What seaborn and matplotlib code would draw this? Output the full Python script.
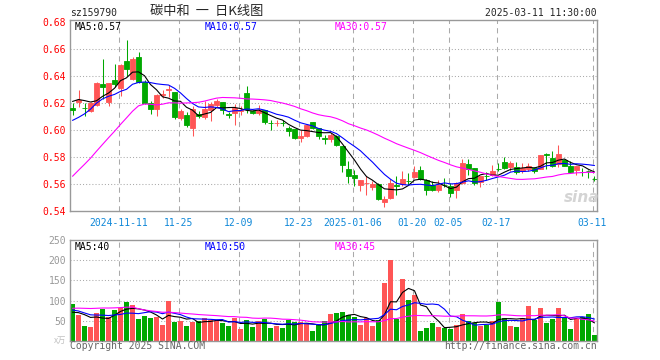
import matplotlib
matplotlib.use("Agg")
import matplotlib.pyplot as plt
import seaborn as sns
import numpy as np
import pandas as pd

sns.set_style("white")
plt.rcParams['font.family'] = ['DejaVu Sans Mono', 'Noto Sans CJK SC']

# daily K line, 2024-10-30 .. 2025-03-11 (88 sessions)
open_ = [0.6160, 0.6205, 0.6163, 0.6138, 0.6185, 0.6336, 0.6205, 0.6365, 0.6309, 0.6506,
         0.6374, 0.6540, 0.6355, 0.6200, 0.6155, 0.6257, 0.6294, 0.6279, 0.6086, 0.6113,
         0.6012, 0.6118, 0.6098, 0.6145, 0.6181, 0.6205, 0.6116, 0.6121, 0.6138, 0.6271,
         0.6141, 0.6121, 0.6150, 0.6052, 0.6048, 0.6052, 0.6014, 0.6007, 0.5941, 0.5955,
         0.6060, 0.6010, 0.5938, 0.5936, 0.5953, 0.5879, 0.5713, 0.5664, 0.5595, 0.5605,
         0.5575, 0.5602, 0.5464, 0.5494, 0.5590, 0.5602, 0.5622, 0.5652, 0.5706, 0.5632,
         0.5590, 0.5553, 0.5595, 0.5588, 0.5558, 0.5610, 0.5748, 0.5718, 0.5615, 0.5659,
         0.5664, 0.5713, 0.5763, 0.5726, 0.5723, 0.5694, 0.5711, 0.5718, 0.5711, 0.5818,
         0.5793, 0.5745, 0.5780, 0.5736, 0.5701, 0.5690, 0.5695, 0.5638]
high = [0.6195, 0.6296, 0.6197, 0.6205, 0.6351, 0.6521, 0.6343, 0.6489, 0.6489, 0.6667,
        0.6540, 0.6577, 0.6365, 0.6210, 0.6267, 0.6291, 0.6333, 0.6279, 0.6155, 0.6131,
        0.6180, 0.6136, 0.6217, 0.6205, 0.6229, 0.6205, 0.6133, 0.6193, 0.6174, 0.6324,
        0.6150, 0.6181, 0.6150, 0.6074, 0.6074, 0.6074, 0.6026, 0.6007, 0.6002, 0.6043,
        0.6060, 0.6014, 0.5960, 0.5979, 0.5965, 0.5879, 0.5768, 0.5706, 0.5627, 0.5657,
        0.5620, 0.5607, 0.5513, 0.5637, 0.5657, 0.5694, 0.5681, 0.5731, 0.5736, 0.5639,
        0.5620, 0.5627, 0.5644, 0.5607, 0.5612, 0.5785, 0.5785, 0.5718, 0.5657, 0.5686,
        0.5743, 0.5756, 0.5800, 0.5768, 0.5763, 0.5756, 0.5756, 0.5723, 0.5817, 0.5830,
        0.5842, 0.5888, 0.5785, 0.5768, 0.5731, 0.5718, 0.5706, 0.5657]
low = [0.6110, 0.6168, 0.6099, 0.6131, 0.6175, 0.6230, 0.6175, 0.6314, 0.6249, 0.6400,
       0.6370, 0.6343, 0.6190, 0.6118, 0.6099, 0.6235, 0.6242, 0.6081, 0.6076, 0.6020,
       0.5953, 0.6086, 0.6079, 0.6062, 0.6169, 0.6114, 0.6086, 0.6033, 0.6112, 0.6121,
       0.6114, 0.6110, 0.6043, 0.6002, 0.6026, 0.6026, 0.5955, 0.5931, 0.5907, 0.5950,
       0.6007, 0.5931, 0.5895, 0.5912, 0.5879, 0.5686, 0.5607, 0.5588, 0.5546, 0.5518,
       0.5558, 0.5484, 0.5429, 0.5489, 0.5521, 0.5588, 0.5590, 0.5644, 0.5627, 0.5521,
       0.5546, 0.5538, 0.5578, 0.5504, 0.5496, 0.5600, 0.5669, 0.5590, 0.5578, 0.5632,
       0.5657, 0.5694, 0.5711, 0.5694, 0.5674, 0.5681, 0.5694, 0.5681, 0.5711, 0.5711,
       0.5723, 0.5728, 0.5731, 0.5681, 0.5669, 0.5657, 0.5644, 0.5620]
close = [0.6150, 0.6222, 0.6160, 0.6197, 0.6346, 0.6314, 0.6343, 0.6338, 0.6477, 0.6452,
         0.6522, 0.6355, 0.6195, 0.6151, 0.6259, 0.6262, 0.6304, 0.6094, 0.6136, 0.6039,
         0.6155, 0.6099, 0.6157, 0.6193, 0.6217, 0.6145, 0.6112, 0.6162, 0.6150, 0.6152,
         0.6121, 0.6150, 0.6060, 0.6050, 0.6052, 0.6050, 0.5991, 0.5943, 0.5955, 0.6033,
         0.6014, 0.5955, 0.5936, 0.5960, 0.5886, 0.5738, 0.5657, 0.5644, 0.5627, 0.5608,
         0.5602, 0.5491, 0.5491, 0.5607, 0.5588, 0.5639, 0.5620, 0.5689, 0.5639, 0.5553,
         0.5558, 0.5595, 0.5590, 0.5533, 0.5607, 0.5755, 0.5711, 0.5607, 0.5657, 0.5657,
         0.5694, 0.5711, 0.5718, 0.5756, 0.5689, 0.5718, 0.5736, 0.5694, 0.5817, 0.5815,
         0.5731, 0.5823, 0.5736, 0.5691, 0.5731, 0.5689, 0.5694, 0.5637]
volume = [92, 65, 37, 34, 69, 79, 60, 77, 81, 97,
          89, 54, 62, 57, 60, 39, 99, 47, 49, 37,
          47, 49, 57, 52, 50, 44, 37, 57, 29, 52,
          34, 49, 54, 32, 37, 32, 52, 47, 47, 42,
          24, 39, 50, 66, 69, 71, 64, 59, 39, 56,
          36, 51, 143, 200, 54, 153, 101, 114, 24, 31.5,
          44, 34, 31.5, 29, 39, 66, 49, 44, 36.5, 39,
          49, 96, 56, 36.5, 34, 56, 86, 51, 81, 44,
          54, 81, 59, 29, 56, 59, 66, 14]

# sessions before the window, estimated from where the MA lines start
hist_close = [0.488, 0.485, 0.483, 0.480, 0.482, 0.486, 0.490, 0.495, 0.500, 0.505, 0.516,
              0.580, 0.620, 0.640, 0.610, 0.600, 0.610, 0.620, 0.600, 0.610,
              0.600, 0.590, 0.585, 0.590, 0.600, 0.615, 0.620, 0.625, 0.630]
hist_vol = [55, 50, 48, 52, 58, 62, 65, 60, 70, 80,
            180, 150, 120, 110, 95, 90, 85, 80, 78, 75,
            90, 85, 80, 75, 81, 70, 62, 68, 64]

tick_idx = [8, 18, 28, 38, 47, 57, 63, 71, 87]
tick_labels = ['2024-11-11', '11-25', '12-09', '12-23', '2025-01-06',
               '01-20', '02-05', '02-17', '03-11']
price_ticks = [0.54, 0.56, 0.58, 0.60, 0.62, 0.64, 0.66, 0.68]
vol_ticks = [50, 100, 150, 200, 250]

price_ma_text = ['MA5:0.57', 'MA10:0.57', 'MA30:0.57']
vol_ma_text = ['MA5:40', 'MA10:50', 'MA30:45']

RED = '#ff5555'
GREEN = '#00a800'
GRID = '#aaaaaa'
ma_colors = ['black', '#0000ff', '#ff00ff']

n = len(close)
idx = np.arange(n)
o = np.array(open_); c = np.array(close); h = np.array(high); l = np.array(low)
cols = [RED if c[i] >= o[i] else GREEN for i in range(n)]

full_close = pd.Series(hist_close + close)
full_vol = pd.Series(hist_vol + volume)
k = len(hist_close)

W, H = 660, 360
fig = plt.figure(figsize=(6.6, 3.6), dpi=100)
ax = fig.add_axes([70.3 / W, 1 - 211 / H, 527 / W, 190.7 / H])
axv = fig.add_axes([70.3 / W, 1 - 341 / H, 527 / W, 101 / H])

xmin, xmax = -0.37, 87.47
xt = np.array(tick_idx) - 0.33

for a in (ax, axv):
    a.set_xlim(xmin, xmax)
    for s in a.spines.values():
        s.set_color('#999999')
        s.set_linewidth(1)
    a.tick_params(length=0, pad=3)
    for x in xt:
        a.axvline(x, color=GRID, lw=0.75, ls=(0, (5, 4)), zorder=0)

# price panel
ax.set_ylim(0.54, 0.681)
for y in price_ticks[1:-1]:
    ax.axhline(y, color=GRID, lw=0.75, ls=(0, (1, 2)), zorder=0)
ax.vlines(idx, l, h, colors=cols, lw=0.75, zorder=2)
ax.bar(idx, np.abs(c - o), bottom=np.minimum(o, c), width=0.72,
       color=cols, edgecolor=cols, linewidth=0.6, zorder=3)
for win, col in zip([5, 10, 30], ma_colors):
    ma = full_close.rolling(win).mean().values[k:]
    sns.lineplot(x=idx, y=ma, ax=ax, color=col, lw=0.8, zorder=4)
ax.set_yticks(price_ticks)
ax.set_yticklabels(['%.2f' % v for v in price_ticks], color='#ff0000', fontsize=7)
ax.set_xticks(xt)
ax.set_xticklabels(tick_labels, color='#1088d8', fontsize=7)
ax.tick_params(axis='x', pad=5)

# volume panel
axv.set_ylim(0, 250)
for y in vol_ticks[:-1]:
    axv.axhline(y, color=GRID, lw=0.75, ls=(0, (1, 2)), zorder=0)
axv.bar(idx, volume, width=0.83, color=cols, linewidth=0, zorder=2)
for win, col in zip([5, 10, 30], ma_colors):
    ma = full_vol.rolling(win).mean().values[k:]
    sns.lineplot(x=idx, y=ma, ax=axv, color=col, lw=0.8, zorder=4)
axv.set_yticks(vol_ticks)
axv.set_yticklabels([str(v) for v in vol_ticks], color='#999999', fontsize=7)
axv.set_xticks([])

def px(x, y):
    return x / W, 1 - y / H

for txt, col, x0 in zip(price_ma_text, ma_colors, [75, 204.5, 334.5]):
    fig.text(*px(x0, 26.5), txt, color=col, fontsize=7, va='center')
for txt, col, x0 in zip(vol_ma_text, ma_colors, [75, 204.5, 334.5]):
    fig.text(*px(x0, 246.5), txt, color=col, fontsize=7, va='center')

fig.text(*px(70, 13), 'sz159790', fontsize=7, va='center')
fig.text(*px(150, 11.5), '碳中和  一  日K线图', fontsize=9.5, va='center',
         family=['Noto Sans CJK SC', 'DejaVu Sans'])
fig.text(*px(597, 13), '2025-03-11 11:30:00', fontsize=7, va='center', ha='right')
fig.text(*px(66, 340), 'x万', fontsize=6, va='center', ha='right', color='#c0c0c0',
         family=['Noto Sans CJK SC', 'DejaVu Sans'])
fig.text(*px(70, 346), 'Copyright 2025 SINA.COM', fontsize=7, va='center', color='#666666')
fig.text(*px(597, 346), 'http://finance.sina.com.cn', fontsize=7, va='center',
         ha='right', color='#666666')
fig.text(*px(582, 197), 'sina', fontsize=11, va='center', ha='center', color='#d4d4d4',
         style='italic', weight='bold', family=['DejaVu Sans'])

fig.savefig('out.png', dpi=100)
